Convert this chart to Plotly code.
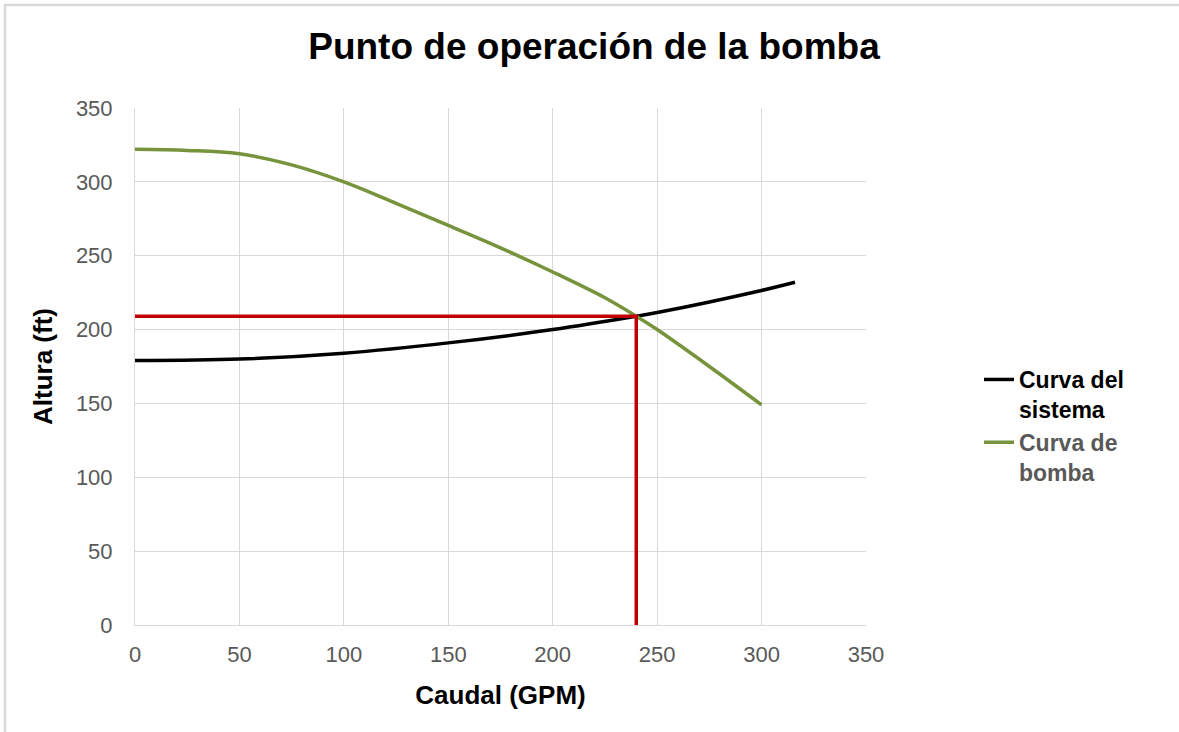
import plotly.graph_objects as go

# Data
pump_q = [0, 25, 50, 75, 100, 125, 150, 175, 200, 225, 240, 250, 275, 300]
pump_h = [322, 321.3, 319, 311.5, 300, 285.5, 270.5, 255.3, 239, 221.5, 209, 200, 175, 149]
sys_q = [0, 50, 100, 150, 200, 240, 250, 300, 316]
sys_h = [179, 180, 184, 191, 200, 209, 211.5, 226.5, 232]
op_q = 240
op_h = 209

FONT = "Liberation Sans, Arial, sans-serif"
GRID = "#d9d9d9"

fig = go.Figure()
fig.add_trace(go.Scatter(x=sys_q, y=sys_h, mode="lines",
                         line=dict(color="black", width=3.5, shape="spline", smoothing=1.0),
                         name="<span style='color:#000000'>Curva del<br>sistema</span>"))
fig.add_trace(go.Scatter(x=pump_q, y=pump_h, mode="lines",
                         line=dict(color="#77933C", width=3.5, shape="spline", smoothing=1.0),
                         name="<span style='color:#595959'>Curva de<br>bomba</span>"))
fig.add_trace(go.Scatter(x=[0, op_q, op_q], y=[op_h, op_h, 0], mode="lines",
                         line=dict(color="#C00000", width=3.5), showlegend=False))

W, H = 1179, 732
L, R, T, B = 135, 866, 108, 625
pw, ph = R - L, B - T
def px(x):
    return (x - L) / pw
def py(y):
    return (B - y) / ph

fig.update_layout(
    width=W, height=H,
    margin=dict(l=L, r=W - R, t=T, b=H - B),
    paper_bgcolor="white", plot_bgcolor="white",
    font=dict(family=FONT, color="#595959"),
    title=dict(text="<b>Punto de operación de la bomba</b>", x=594 / W, xref="container", xanchor="center",
               y=1 - 46 / H, yanchor="middle",
               font=dict(size=37, color="black", family=FONT)),
    xaxis=dict(range=[0, 350], dtick=50, showgrid=True, gridcolor=GRID, gridwidth=1,
               showline=True, linecolor=GRID, linewidth=1, zeroline=False,
               tickfont=dict(size=22, color="#595959"), ticks="", ticklabelstandoff=10,
               title=dict(text="<b>Caudal (GPM)</b>", font=dict(size=26, color="black"), standoff=19)),
    yaxis=dict(range=[0, 350], dtick=50, showgrid=True, gridcolor=GRID, gridwidth=1,
               showline=True, linecolor=GRID, linewidth=1, zeroline=False,
               tickfont=dict(size=22, color="#595959"), ticks="", ticklabelstandoff=17,
               title=dict(text="<b>Altura (ft)</b>", font=dict(size=26, color="black"), standoff=15)),
    legend=dict(x=px(979), y=py(358), xanchor="left", yanchor="top", valign="top",
                font=dict(size=23, family=FONT, weight="bold"), tracegroupgap=0, bgcolor="rgba(0,0,0,0)"),
    shapes=[
        dict(type="rect", xref="paper", yref="paper", x0=px(5), x1=px(W + 10), y0=py(5), y1=py(H + 10),
             line=dict(color=GRID, width=2.5), fillcolor="rgba(0,0,0,0)", layer="above"),
    ],
)

fig.write_html("out.html", config={"displayModeBar": False},
               post_script="document.body.style.margin='0';")
